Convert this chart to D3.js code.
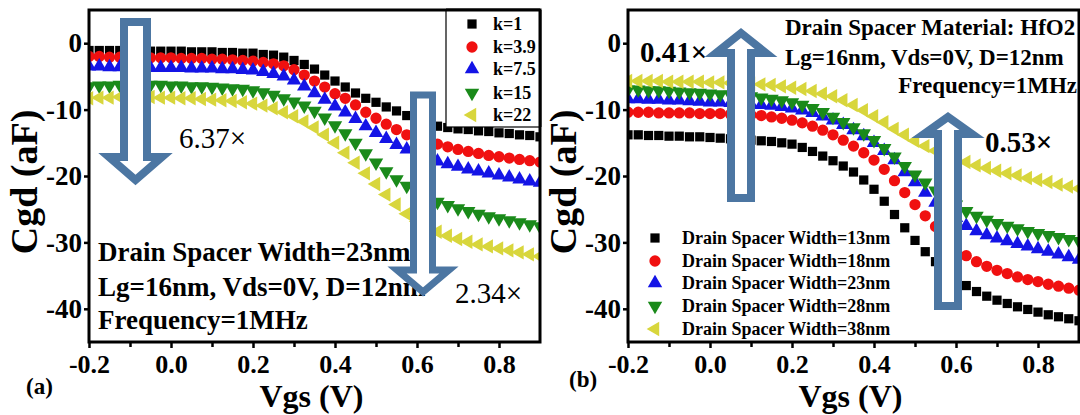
<!DOCTYPE html>
<html>
<head>
<meta charset="utf-8">
<script src="https://cdnjs.cloudflare.com/ajax/libs/d3/7.8.5/d3.min.js"></script>
<style>
  body { margin: 0; background: #fff; }
  text { font-family: "Liberation Serif", "Times New Roman", serif; }
</style>
</head>
<body>
<script>
// Cgd vs Vgs, two panels

var vgs = [-0.2, -0.175, -0.15, -0.125, -0.1, -0.075, -0.05, -0.025, 0.0, 0.025, 0.05, 0.075,
  0.1, 0.125, 0.15, 0.175, 0.2, 0.225, 0.25, 0.275, 0.3, 0.325, 0.35, 0.375, 0.4, 0.425,
  0.45, 0.475, 0.5, 0.525, 0.55, 0.575, 0.6, 0.625, 0.65, 0.675, 0.7, 0.725, 0.75, 0.775,
  0.8, 0.825, 0.85, 0.875, 0.9];

var xTicks = [-0.2, 0.0, 0.2, 0.4, 0.6, 0.8];
var xMinor = [-0.1, 0.1, 0.3, 0.5, 0.7];
var yTicks = [0, -10, -20, -30, -40];

// panel (a): spacer dielectric constant
var kLabels = ['k=1', 'k=3.9', 'k=7.5', 'k=15', 'k=22'];
var k1 = [-1.1, -1.1, -1.1, -1.1, -1.2, -1.2, -1.2, -1.2, -1.2, -1.2, -1.3, -1.3, -1.3, -1.4, -1.4,
  -1.5, -1.5, -1.7, -1.8, -2.1, -2.6, -3.2, -3.9, -4.8, -5.7, -6.6, -7.5, -8.3, -8.9, -9.6, -10.2,
  -10.9, -11.5, -12.1, -12.5, -12.7, -12.9, -13.0, -13.2, -13.3, -13.5, -13.6, -13.8, -13.9, -14.1];
var k39 = [-2.0, -2.0, -2.1, -2.1, -2.1, -2.1, -2.2, -2.2, -2.2, -2.3, -2.3, -2.3, -2.4, -2.4, -2.5,
  -2.6, -2.7, -2.9, -3.1, -3.4, -4.0, -4.8, -5.7, -6.6, -7.6, -8.3, -9.3, -10.4, -11.3, -12.2, -13.0,
  -13.8, -14.3, -14.8, -15.2, -15.6, -16.0, -16.3, -16.6, -16.9, -17.1, -17.3, -17.5, -17.7, -17.9];
var k75 = [-3.5, -3.5, -3.6, -3.6, -3.6, -3.6, -3.7, -3.7, -3.7, -3.7, -3.8, -3.8, -3.8, -3.9, -3.9,
  -4.0, -4.1, -4.3, -4.6, -5.0, -5.6, -6.5, -7.5, -8.5, -9.5, -10.4, -11.4, -12.5, -13.5, -14.4, -15.3,
  -16.0, -16.7, -17.3, -17.8, -18.2, -18.6, -19.0, -19.3, -19.6, -19.9, -20.2, -20.5, -20.8, -21.0];
var k15 = [-6.5, -6.4, -6.4, -6.3, -6.3, -6.3, -6.3, -6.3, -6.4, -6.4, -6.5, -6.5, -6.6, -6.7, -6.8,
  -6.9, -7.1, -7.4, -7.8, -8.3, -8.8, -9.4, -10.2, -11.2, -12.4, -13.6, -15.0, -16.6, -18.0, -19.3, -20.5,
  -21.5, -22.4, -23.2, -23.9, -24.4, -24.9, -25.3, -25.7, -26.1, -26.4, -26.7, -27.0, -27.3, -27.6];
var k22 = [-8.3, -8.2, -8.2, -8.1, -8.1, -8.1, -8.1, -8.2, -8.2, -8.3, -8.3, -8.4, -8.5, -8.6, -8.7,
  -8.9, -9.1, -9.4, -9.8, -10.4, -11.0, -11.8, -12.7, -13.8, -15.0, -16.5, -18.0, -19.6, -21.2, -22.8, -24.3,
  -25.7, -26.8, -27.7, -28.4, -29.0, -29.5, -29.9, -30.3, -30.6, -30.9, -31.2, -31.5, -31.8, -32.1];

// panel (b): drain spacer width
var wLabels = ['Drain Spacer Width=13nm', 'Drain Spacer Width=18nm', 'Drain Spacer Width=23nm',
  'Drain Spacer Width=28nm', 'Drain Spacer Width=38nm'];
var w13 = [-13.8, -13.8, -13.9, -13.9, -14.0, -14.0, -14.1, -14.1, -14.2, -14.3, -14.4, -14.5, -14.6, -14.7, -14.8,
  -15.0, -15.2, -15.7, -16.3, -17.0, -17.7, -18.5, -19.4, -20.6, -22.0, -23.8, -25.8, -27.8, -29.7, -31.4, -32.9,
  -34.2, -35.4, -36.5, -37.4, -38.1, -38.7, -39.2, -39.7, -40.1, -40.5, -40.9, -41.2, -41.5, -41.8];
var w18 = [-10.4, -10.4, -10.4, -10.5, -10.5, -10.5, -10.5, -10.6, -10.6, -10.6, -10.7, -10.7, -10.8, -10.9, -11.1,
  -11.3, -11.6, -12.0, -12.5, -13.1, -13.8, -14.6, -15.5, -16.5, -17.6, -19.0, -20.7, -22.5, -24.3, -26.0, -27.6,
  -29.4, -30.9, -32.0, -32.9, -33.6, -34.2, -34.7, -35.2, -35.6, -35.9, -36.3, -36.6, -36.9, -37.2];
var w23 = [-8.4, -8.4, -8.5, -8.5, -8.6, -8.6, -8.7, -8.8, -8.9, -8.9, -9.0, -9.1, -9.2, -9.3, -9.4,
  -9.6, -9.8, -10.1, -10.5, -11.0, -11.6, -12.3, -13.1, -14.0, -15.0, -16.2, -17.6, -19.4, -20.9, -22.5, -24.0,
  -25.2, -26.3, -27.5, -28.3, -28.9, -29.4, -29.8, -30.2, -30.6, -31.0, -31.4, -31.8, -32.2, -32.6];
var w28 = [-7.0, -7.0, -7.1, -7.1, -7.2, -7.3, -7.4, -7.5, -7.6, -7.7, -7.8, -7.9, -8.0, -8.2, -8.4,
  -8.6, -8.9, -9.3, -9.8, -10.4, -11.1, -11.9, -12.7, -13.6, -14.6, -15.8, -17.1, -18.5, -19.8, -21.0, -22.2,
  -23.3, -24.3, -25.3, -26.0, -26.6, -27.1, -27.5, -27.9, -28.3, -28.6, -28.9, -29.2, -29.5, -29.8];
var w38 = [-5.7, -5.7, -5.7, -5.7, -5.8, -5.8, -5.8, -5.8, -5.9, -5.9, -6.0, -6.0, -6.1, -6.2, -6.3,
  -6.5, -6.7, -6.9, -7.2, -7.6, -8.0, -8.6, -9.3, -10.1, -11.0, -11.9, -12.9, -13.8, -14.7, -15.5, -16.2,
  -16.8, -17.4, -17.9, -18.4, -18.8, -19.2, -19.6, -19.9, -20.3, -20.6, -20.9, -21.3, -21.6, -21.9];

var colors = ['#000000', '#f01010', '#1414e6', '#1a8a1a', '#d8d63c'];
var shapes = [
  {type: d3.symbolSquare, size: 85, rot: 0},
  {type: d3.symbolCircle, size: 100, rot: 0},
  {type: d3.symbolTriangle, size: 90, rot: 0},
  {type: d3.symbolTriangle, size: 90, rot: 180},
  {type: d3.symbolTriangle, size: 90, rot: -90}
];
var arrowColor = '#4c76a2';
var serif = 'Liberation Serif';

var svg = d3.select('body').append('svg')
  .attr('width', 1080)
  .attr('height', 415);

svg.append('rect').attr('width', 1080).attr('height', 415).attr('fill', '#fff');

// plot area top / bottom in pixels
var plotTop = 10, plotBottom = 342;
var y = d3.scaleLinear().domain([-45, 5]).range([plotBottom, plotTop]);

var drawPanel = function(left, series, id) {
  var right = left + 451;
  var x = d3.scaleLinear().domain([-0.2, 0.9]).range([left, right]);
  var g = svg.append('g');

  g.append('clipPath').attr('id', id)
    .append('rect')
    .attr('x', left).attr('y', plotTop)
    .attr('width', right - left).attr('height', plotBottom - plotTop);

  var plot = g.append('g').attr('clip-path', 'url(#' + id + ')');

  series.forEach(function(s, i) {
    var sym = d3.symbol().type(shapes[i].type).size(shapes[i].size);
    plot.selectAll('.m' + i)
      .data(s)
      .enter()
      .append('path')
      .attr('d', sym)
      .attr('fill', colors[i])
      .attr('transform', function(d, j) {
        return 'translate(' + x(vgs[j]) + ',' + y(d) + ') rotate(' + shapes[i].rot + ')';
      });
  });

  // x axis
  var xa = g.append('g')
    .attr('transform', 'translate(0,' + plotBottom + ')')
    .call(d3.axisBottom(x).tickValues(xTicks).tickSize(6).tickPadding(7)
      .tickFormat(function(d) { return d.toFixed(1); }));
  g.append('g')
    .attr('transform', 'translate(0,' + plotBottom + ')')
    .call(d3.axisBottom(x).tickValues(xMinor).tickSize(5).tickFormat(''))
    .call(function(a) { a.select('.domain').remove(); a.selectAll('line').attr('stroke-width', 2.5); });
  xa.select('.domain').remove();
  xa.selectAll('line').attr('stroke-width', 2.5);
  xa.selectAll('text')
    .attr('font-family', serif)
    .attr('font-weight', 'bold')
    .attr('font-size', 26)
    .attr('fill', '#000');

  // y axis
  var ya = g.append('g')
    .attr('transform', 'translate(' + left + ',0)')
    .call(d3.axisLeft(y).tickValues(yTicks).tickSize(5).tickPadding(2)
      .tickFormat(function(d) { return String(d); }));
  ya.select('.domain').remove();
  ya.selectAll('line').attr('stroke-width', 2.5);
  ya.selectAll('text')
    .attr('font-family', serif)
    .attr('font-weight', 'bold')
    .attr('font-size', 27)
    .attr('fill', '#000');

  g.append('rect')
    .attr('x', left).attr('y', plotTop)
    .attr('width', right - left).attr('height', plotBottom - plotTop)
    .attr('fill', 'none')
    .attr('stroke', '#000')
    .attr('stroke-width', 3);

  g.append('text')
    .attr('x', (left + right) / 2 - 3)
    .attr('y', 407)
    .attr('text-anchor', 'middle')
    .attr('font-family', serif)
    .attr('font-weight', 'bold')
    .attr('font-size', 32)
    .text('Vgs (V)');

  g.append('text')
    .attr('transform', 'translate(' + (left - 52) + ',182) rotate(-90)')
    .attr('text-anchor', 'middle')
    .attr('font-family', serif)
    .attr('font-weight', 'bold')
    .attr('font-size', 38)
    .text('Cgd (aF)');

  return {g: g, x: x};
};

var txt = function(g, s, x0, y0, size, weight, anchor) {
  g.append('text')
    .attr('x', x0).attr('y', y0)
    .attr('font-family', serif)
    .attr('font-size', size)
    .attr('font-weight', weight)
    .attr('text-anchor', anchor || 'start')
    .text(s);
};

// hollow block arrow, pointing down when tipY > startY
var arrow = function(g, cx, shaftW, headW, startY, headY, tipY, sw) {
  var pts = [
    [cx - shaftW / 2, startY], [cx + shaftW / 2, startY], [cx + shaftW / 2, headY],
    [cx + headW / 2, headY], [cx, tipY], [cx - headW / 2, headY], [cx - shaftW / 2, headY]
  ];
  g.append('path')
    .attr('d', d3.line()(pts) + 'Z')
    .attr('fill', '#fff')
    .attr('stroke', arrowColor)
    .attr('stroke-width', sw)
    .attr('stroke-linejoin', 'miter');
};

// ----- panel (a)
var pa = drawPanel(89, [k1, k39, k75, k15, k22], 'clipA');

txt(pa.g, 'Drain Spacer Width=23nm', 98, 261, 27, 'bold');
txt(pa.g, 'Lg=16nm, Vds=0V, D=12nm', 98, 296, 27, 'bold');
txt(pa.g, 'Frequency=1MHz', 98, 329, 27, 'bold');
txt(pa.g, '6.37\u00d7', 179, 148, 29, 'normal');
txt(pa.g, '2.34\u00d7', 455, 303, 29, 'normal');

arrow(pa.g, 135.5, 23, 53, 22, 157, 180, 8);
arrow(pa.g, 423, 19, 52, 95, 270, 292, 7);

var legA = pa.g.append('g');
legA.append('rect')
  .attr('x', 446).attr('y', 10)
  .attr('width', 94).attr('height', 117)
  .attr('fill', '#fff')
  .attr('stroke', '#000')
  .attr('stroke-width', 1.2);
legA.append('line').attr('x1', 446).attr('x2', 540).attr('y1', 10).attr('y2', 10)
  .attr('stroke', '#000').attr('stroke-width', 3);
legA.append('line').attr('x1', 540).attr('x2', 540).attr('y1', 10).attr('y2', 127)
  .attr('stroke', '#000').attr('stroke-width', 3);
var legAy = [24, 47, 69, 93, 115];
kLabels.forEach(function(l, i) {
  legA.append('path')
    .attr('d', d3.symbol().type(shapes[i].type).size(shapes[i].size)())
    .attr('fill', colors[i])
    .attr('transform', 'translate(472,' + legAy[i] + ') rotate(' + shapes[i].rot + ')');
  txt(legA, l, 493, legAy[i] + 6, 18, 'bold');
});

txt(svg, '(a)', 26, 394, 23, 'bold');

// ----- panel (b)
var pb = drawPanel(628, [w13, w18, w23, w28, w38], 'clipB');

txt(pb.g, 'Drain Spacer Material: HfO2', 785, 35, 23, 'bold');
txt(pb.g, 'Lg=16nm, Vds=0V, D=12nm', 785, 65, 23, 'bold');
txt(pb.g, 'Frequency=1MHz', 1077, 93, 23, 'bold', 'end');
txt(pb.g, '0.41\u00d7', 640, 62, 29, 'bold');
txt(pb.g, '0.53\u00d7', 985, 152, 29, 'bold');

arrow(pb.g, 741, 20, 50, 198, 53, 33, 8);
arrow(pb.g, 948, 20, 48, 306, 134, 117, 8);

var legBy = [238, 261, 283, 306, 329];
wLabels.forEach(function(l, i) {
  pb.g.append('path')
    .attr('d', d3.symbol().type(shapes[i].type).size(shapes[i].size)())
    .attr('fill', colors[i])
    .attr('transform', 'translate(655,' + legBy[i] + ') rotate(' + shapes[i].rot + ')');
  txt(pb.g, l, 682, legBy[i] + 6, 18, 'bold');
});

txt(svg, '(b)', 569, 387, 23, 'bold');
</script>
</body>
</html>
